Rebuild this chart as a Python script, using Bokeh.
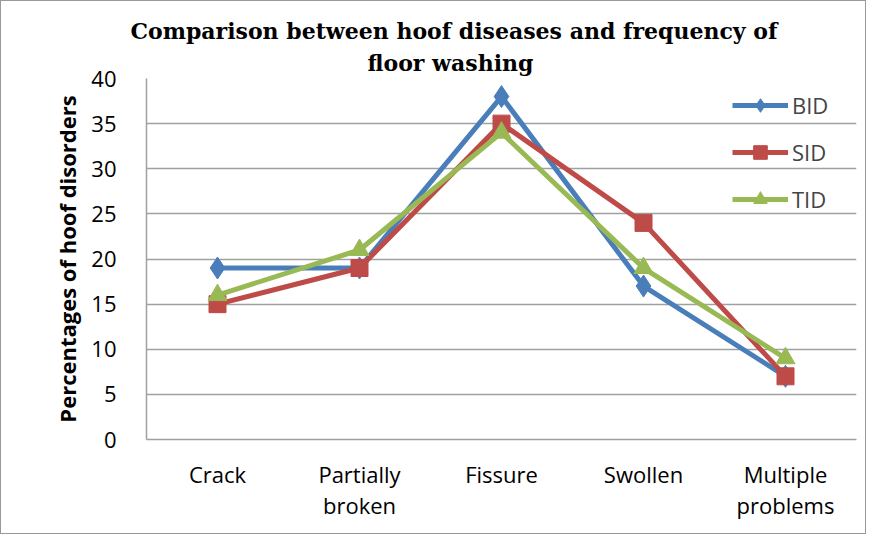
from bokeh.plotting import figure
from bokeh.models import FactorRange, Legend, LegendItem, SingleIntervalTicker, Title
from bokeh.embed import file_html
from bokeh.resources import INLINE

categories = ["Crack", "Partially\nbroken", "Fissure", "Swollen", "Multiple\nproblems"]
bid = [19, 19, 38, 17, 7]
sid = [15, 19, 35, 24, 7]
tid = [16, 21, 34, 19, 9]
y_ticks_step = 5

BLUE = "#4a7ebb"
RED = "#be4b48"
GREEN = "#98b954"
SANS = "Open Sans"
SERIF = "DejaVu Serif"

p = figure(width=866, height=534, output_backend="svg", toolbar_location=None,
           x_range=FactorRange(factors=categories, range_padding=0),
           y_range=(0, 40),
           min_border_left=145, min_border_right=11, min_border_bottom=96, min_border_top=77)

p.title.text = "Comparison between hoof diseases and frequency of"
p.title.text_font = SERIF
p.title.text_font_size = "22px"
p.title.text_font_style = "bold"
p.title.align = "left"
p.title.offset = -16
p.title.standoff = 2
p.title.text_color = "#000000"
p.add_layout(Title(text="floor washing", text_font=SERIF,
                   text_font_size="22px", text_font_style="bold", align="left",
                   offset=221, standoff=6, text_color="#000000"), "above")

p.outline_line_color = None
p.background_fill_color = "white"
p.border_fill_color = "white"
p.styles = {"border": "1px solid #999999", "box-sizing": "border-box"}

p.xgrid.grid_line_color = None
p.ygrid.grid_line_color = "#a0a0a0"
p.ygrid.grid_line_width = 1.5
p.yaxis.ticker = SingleIntervalTicker(interval=y_ticks_step)

for ax in (p.xaxis, p.yaxis):
    ax.axis_line_color = "#a0a0a0"
    ax.axis_line_width = 1.5
    ax.major_tick_line_color = None
    ax.minor_tick_line_color = None
    ax.major_label_text_font = SANS
    ax.major_label_text_font_size = "22px"
    ax.major_label_text_color = "#000000"

p.yaxis.major_label_standoff = 24
p.xaxis.major_label_standoff = 13
p.xaxis.major_label_text_line_height = 1.06

p.yaxis.axis_label = "Percentages of hoof disorders"
p.yaxis.axis_label_text_font = SANS
p.yaxis.axis_label_text_font_size = "22px"
p.yaxis.axis_label_text_font_style = "bold"
p.yaxis.axis_label_text_color = "#000000"
p.yaxis.axis_label_standoff = 6

items = []
series = [("BID", bid, BLUE, "diamond", 22),
          ("SID", sid, RED, "square", 17),
          ("TID", tid, GREEN, "triangle", 19)]
for name, vals, col, marker, size in series:
    l = p.line(categories, vals, line_color=col, line_width=5)
    s = p.scatter(categories, vals, marker=marker, size=size, fill_color=col, line_color=col)
    items.append(LegendItem(label=name, renderers=[l, s]))

legend = Legend(items=items, location=(586, 223), glyph_width=56, glyph_height=34,
                label_height=20, spacing=13, label_text_font=SANS, label_text_font_size="22px",
                label_standoff=4, border_line_color=None, background_fill_alpha=0, padding=10)
p.add_layout(legend)

open("out.html", "w").write(file_html(p, INLINE))
